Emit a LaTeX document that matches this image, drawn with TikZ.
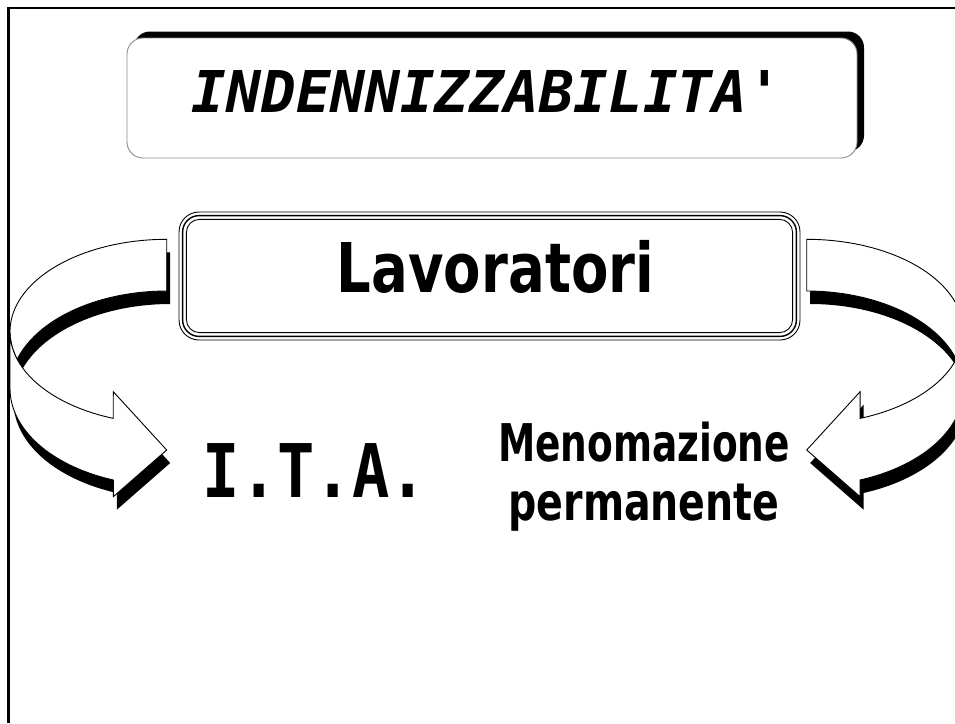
\documentclass[tikz,border=0pt]{standalone}
\usepackage{fontspec}
\usepackage{graphicx}
\newfontfamily\dvsans{DejaVu Sans}
\newfontfamily\dvmono{DejaVu Sans Mono}
\usetikzlibrary{shadows}

\newcommand\arrowBand{(166.7,239.3) -- plot[domain=270:162.58,samples=60] ({166.7+156.7*cos(\x)},{331.6+92.3*sin(\x)}) -- plot[domain=197.42:270,samples=40] ({166.7+156.7*cos(\x)},{388.4+97.4*sin(\x)}) -- cycle}
\newcommand\arrowArm{(10,331.6) -- plot[domain=180:109.93,samples=50] ({166.7+156.7*cos(\x)},{331.6+92.3*sin(\x)}) -- (113.3,391.7) -- (166.7,450) -- (113.3,496.7) -- (113.3,480) -- plot[domain=109.93:180,samples=50] ({166.7+156.7*cos(\x)},{388.4+97.4*sin(\x)}) -- cycle}

\tikzset{
  frameline/.style={line width=2.7pt, draw=black},
  arrowface/.style={fill=white, draw=black, line width=0.9pt, line join=miter},
  arrowshadow/.style={fill=black},
  titlebox/.style={draw=black!45, line width=0.9pt, fill=white, rounded corners=16pt,
    minimum width=730pt, minimum height=120pt, inner sep=0pt, outer sep=0pt,
    general shadow={fill=black, shadow xshift=7pt, shadow yshift=6.5pt}},
  lavbox/.style={draw=black, line width=0.9pt, fill=white, rounded corners=20pt,
    minimum width=621pt, minimum height=128pt, inner sep=0pt, outer sep=0pt},
  lavline/.style={draw=black, line width=#1},
  txt/.style={inner sep=0pt, outer sep=0pt, anchor=base, text=black}
}

\begin{document}
\begin{tikzpicture}[x=1pt,y=-1pt]
\clip (0,0) rectangle (955,723);
\fill[white] (0,0) rectangle (955,723);

% left curved arrow
\begin{scope}
  \fill[arrowshadow, shift={(3.5,13)}] \arrowBand;
  \fill[arrowshadow, shift={(3.5,13)}] \arrowArm;
  \filldraw[arrowface] \arrowBand;
  \filldraw[arrowface] \arrowArm;
\end{scope}
% right curved arrow (mirror)
\begin{scope}[shift={(973.4,0)}, xscale=-1]
  \fill[arrowshadow, shift={(-3.5,13)}] \arrowBand;
  \fill[arrowshadow, shift={(-3.5,13)}] \arrowArm;
  \filldraw[arrowface] \arrowBand;
  \filldraw[arrowface] \arrowArm;
\end{scope}

% title box
\node[titlebox] (titlebox) at (492,98) {};
\node[txt, font=\dvmono\bfseries\itshape\fontsize{57.6}{60}\selectfont] (title) at (487,112)
  {\resizebox{590pt}{\height}{INDENNIZZABILITA'}};

% Lavoratori box (triple border)
\node[lavbox] (lav) at (489.5,276) {};
\draw[lavline=1.4pt, rounded corners=16.5pt] ([shift={(3.6,3.6)}]lav.north west) rectangle ([shift={(-3.6,-3.6)}]lav.south east);
\draw[lavline=0.9pt, rounded corners=13pt] ([shift={(7.4,7.4)}]lav.north west) rectangle ([shift={(-7.4,-7.4)}]lav.south east);
\node[txt, font=\dvsans\bfseries\fontsize{68.6}{70}\selectfont] (lavtext) at (495.5,292)
  {\resizebox{317pt}{\height}{Lavoratori}};

% I.T.A.
\node[txt, font=\dvmono\bfseries\fontsize{74}{76}\selectfont] (ita) at (315,497)
  {\resizebox{224pt}{\height}{I.T.A.}};

% Menomazione permanente (base anchor = last line's baseline)
\node[txt, align=center, font=\dvsans\bfseries\fontsize{52}{59}\selectfont] (meno) at (644,520)
  {\resizebox{292pt}{\height}{Menomazione}\\\resizebox{271pt}{\height}{permanente}};

% slide frame
\draw[frameline] (8.3,723) -- (8.3,8) -- (955,8);
\end{tikzpicture}
\end{document}
